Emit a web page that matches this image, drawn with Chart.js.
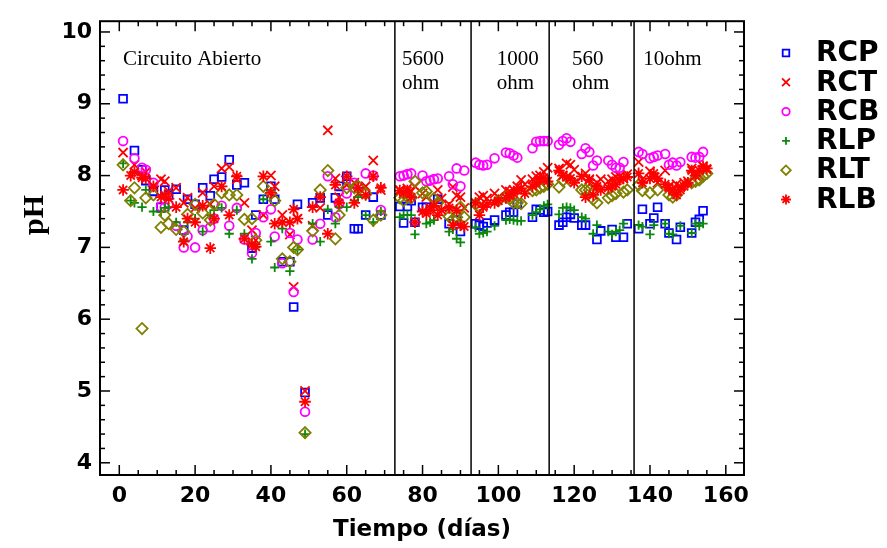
<!DOCTYPE html>
<html>
<head>
<meta charset="utf-8">
<script src="https://cdn.jsdelivr.net/npm/chart.js@4.4.0/dist/chart.umd.min.js"></script>
<style>
  html, body { margin: 0; padding: 0; background: #fff; }
  #wrap { width: 887px; height: 548px; }
</style>
</head>
<body>
<div id="wrap"><canvas id="grafico" width="887" height="548"></canvas></div>
<script>
// dias de muestreo (comunes a las seis series)
const dias = [
  1, 3, 4, 6, 7, 9, 11, 12, 13, 15, 17, 18, 20, 22, 24, 25, 27, 29, 31, 33, 35,
  36, 38, 40, 41, 43, 45, 46, 47, 49, 51, 53, 55, 57, 58, 60, 62, 63, 65, 67, 69,
  74, 75, 76, 77, 78, 80, 81, 82, 83, 84, 85, 87, 88, 89, 90, 91,
  94, 95, 96, 97, 99, 100, 102, 103, 104, 105, 106, 107, 109, 110, 111, 112, 113,
  116, 117, 118, 119, 120, 122, 123, 124, 125, 126, 127, 129, 130, 131, 132, 133, 134,
  137, 138, 140, 141, 142, 144, 145, 146, 147, 148, 149, 150, 151, 152, 153, 154, 155
];

const RCP = [
  9.07, null, 8.35, 8.08, 7.93, 7.78, 7.56, 7.80, 7.73, 7.81, 7.24, 7.67, 7.60, 7.83, 7.72, 7.95, 7.98, 8.22, 7.87, 7.90, 6.99,
  7.45, 7.67, 7.85, 7.67, 6.80, 6.80, 6.17, 7.60, 4.98, 7.62, 7.69, 7.45, 7.69, 7.85, 7.99, 7.26, 7.26, 7.45, 7.70, 7.45,
  7.57, 7.34, 7.57, 7.65, 7.35, 7.56, 7.56, null, null, 7.67, null, 7.33, null, 7.38, 7.22, null,
  7.33, 7.31, 7.29, 7.34, 7.38, null, 7.45, 7.49, 7.49, 7.60, null, null, 7.42, 7.53, 7.52, 7.49, 7.50,
  7.31, 7.35, 7.42, 7.46, 7.41, 7.31, 7.31, null, null, 7.11, 7.23, null, 7.25, 7.14, null, 7.14, 7.33,
  7.26, 7.53, 7.33, 7.41, 7.56, 7.33, 7.20, null, 7.11, 7.28, null, null, 7.20, 7.35, 7.39, 7.51, null
];
const RCT = [
  8.32, null, 8.15, 8.00, 8.05, 7.85, 7.95, 7.92, 7.78, 7.83, 7.62, 7.69, 7.55, 7.76, 7.60, 7.85, 8.10, 8.12, 7.95, 7.62, 7.24,
  7.10, 7.45, 8.00, 7.85, 7.45, 7.18, 6.45, 7.40, 5.00, 7.30, 7.55, 8.63, 7.96, 7.70, 7.87, 7.90, 7.75, 7.85, 8.21, 7.80,
  7.80, 7.75, 7.82, 7.78, 7.85, 7.75, 7.70, 7.55, 7.62, 7.80, 7.68, 7.60, 7.84, 7.72, 7.70, 7.55,
  7.62, 7.70, 7.72, 7.68, 7.75, 7.70, 7.80, 7.78, 7.80, 7.85, 7.94, 7.88, 7.95, 7.99, 8.00, 8.05, 8.11,
  8.10, 8.00, 8.17, 8.15, 8.08, 7.98, 8.03, 7.95, 7.85, 7.90, 7.95, 7.92, 7.95, 7.98, 7.99, 7.96, 8.02,
  8.19, 7.95, 8.06, 7.98, 7.90, 8.07, 7.85, 7.80, 7.88, 7.85, 7.90, 7.92, 8.10, 8.05, 8.00, 8.13, 8.08
];
const RCB = [
  8.48, null, 8.24, 8.11, 8.08, 7.90, 7.57, 7.56, 7.60, 7.30, 7.00, 7.15, 7.00, 7.24, 7.28, 7.40, 7.58, 7.30, 7.55, 7.11, 6.92,
  7.20, 7.42, 7.53, 7.15, 6.78, 7.20, 6.38, 7.11, 4.71, 7.11, 7.33, 7.99, 7.42, 7.60, 7.75, 7.90, 7.85, 8.03, 8.00, 7.52,
  7.99, 8.00, 8.02, 8.03, null, 8.00, 7.92, 7.93, 7.95, 7.96, null, 7.99, 7.88, 8.10, 7.85, 8.07,
  8.18, 8.15, 8.14, 8.15, 8.24, null, 8.32, 8.31, 8.28, 8.25, null, null, 8.38, 8.47, 8.48, 8.48, 8.48,
  8.43, 8.48, 8.52, 8.47, null, 8.30, 8.38, 8.33, 8.14, 8.21, null, 8.21, 8.15, 8.11, 8.11, 8.19, null,
  8.33, 8.30, 8.24, 8.26, 8.28, 8.30, 8.15, 8.18, 8.14, 8.19, null, null, 8.26, 8.25, 8.26, 8.33, null
];
const RLP = [
  8.17, 7.65, 7.62, 7.56, 7.80, 7.50, 7.49, 7.55, 7.56, 7.35, 7.10, 7.35, 7.40, 7.22, 7.45, 7.52, 7.55, 7.19, 7.52, 7.19, 6.84,
  7.00, 7.67, 7.08, 6.72, 7.26, 6.67, null, 6.97, 4.40, 7.33, 7.08, 7.53, 7.33, 7.56, 7.56, 7.65, 7.70, 7.45, 7.35, 7.50,
  7.42, 7.45, 7.45, 7.45, 7.18, null, 7.33, 7.35, 7.38, null, null, 7.22, 7.25, 7.12, 7.07, null,
  7.28, 7.19, 7.20, 7.22, 7.30, null, 7.38, 7.39, 7.38, 7.37, 7.37, null, 7.45, 7.49, 7.53, 7.58, 7.60,
  7.46, 7.55, 7.56, 7.55, 7.52, 7.42, 7.40, null, 7.19, 7.31, null, 7.22, 7.18, 7.22, 7.24, 7.33, null,
  7.31, 7.29, 7.18, 7.31, null, 7.33, 7.19, 7.18, null, 7.30, null, null, 7.20, 7.33, 7.30, 7.33, null
];
const RLT = [
  8.15, 7.65, 7.83, 5.87, 7.69, 7.73, 7.28, 7.45, 7.33, 7.25, 7.22, 7.46, 7.60, 7.48, 7.38, 7.60, 7.76, 7.73, 7.73, 7.39, 7.40,
  7.10, 7.85, 7.75, 7.65, 6.84, 6.80, 7.00, 6.97, 4.42, 7.23, 7.80, 8.07, 7.12, 7.45, 7.83, 7.83, 7.85, 7.75, 7.38, 7.45,
  7.69, 7.65, 7.70, 7.69, 7.92, 7.76, 7.78, null, 7.68, 7.62, null, 7.43, 7.39, 7.42, 7.56, 7.42,
  7.60, 7.56, null, null, null, 7.65, 7.70, 7.68, 7.62, 7.62, 7.61, null, 7.79, 7.80, 7.83, 7.85, 7.88,
  7.84, 7.93, null, 7.93, null, 7.80, 7.80, 7.80, 7.67, 7.62, null, 7.69, 7.72, 7.75, null, 7.77, 7.80,
  7.87, 7.79, 7.76, null, 7.80, null, 7.73, 7.70, 7.73, null, null, null, 7.90, 7.92, 7.94, 7.99, 8.03
];
const RLB = [
  7.80, 8.00, 8.05, 7.97, 7.96, 7.85, 7.70, 7.73, 7.68, 7.56, 7.08, 7.40, 7.35, 7.58, 6.99, 7.40, 7.85, 7.45, 7.99, 7.12, 7.04,
  7.01, 7.99, 7.76, 7.33, 7.35, 7.35, 7.53, 7.40, 4.85, 7.56, 7.70, 7.19, 7.87, 7.62, 7.99, 7.62, 7.83, 7.73, 7.99, 7.83,
  7.79, 7.76, 7.79, 7.70, 7.35, 7.50, 7.47, 7.52, 7.58, 7.45, 7.52, 7.55, 7.31, 7.52, 7.31, 7.29,
  7.62, 7.45, 7.56, 7.60, 7.62, 7.65, 7.69, 7.72, 7.75, 7.80, 7.82, 7.75, 7.85, 7.90, 7.95, 7.97, 7.92,
  8.07, 8.00, 7.98, 7.96, 7.90, 7.99, 7.70, 7.94, 7.73, 7.85, 7.80, 7.83, 7.85, 7.88, 7.94, 7.96, 7.98,
  8.03, 7.90, 7.96, 8.03, 7.96, 7.88, 7.83, 7.79, 7.73, 7.80, 7.85, 7.90, 8.07, 8.00, 8.07, 8.13, 8.10
];

// cambios de resistencia (dias) y rotulos de cada tramo
const cambios = [72.7, 92.8, 113.4, 135.8];
const tramos = [
  { dia: 1, texto: ['Circuito Abierto'] },
  { dia: 74.6, texto: ['5600', 'ohm'] },
  { dia: 99.6, texto: ['1000', 'ohm'] },
  { dia: 119.4, texto: ['560', 'ohm'] },
  { dia: 138.2, texto: ['10ohm'] }
];

const xTicks = [0, 20, 40, 60, 80, 100, 120, 140, 160];
const yTicks = [4, 5, 6, 7, 8, 9, 10];

const estilos = [
  { label: 'RCP', data: RCP, color: '#0000ff', pointStyle: 'rect', radius: 5.5 },
  { label: 'RCT', data: RCT, color: '#ff0000', pointStyle: 'crossRot', radius: 6.5 },
  { label: 'RCB', data: RCB, color: '#ff00ff', pointStyle: 'circle', radius: 4.4 },
  { label: 'RLP', data: RLP, color: '#0a8a0a', pointStyle: 'cross', radius: 4.6 },
  { label: 'RLT', data: RLT, color: '#808000', pointStyle: 'rectRot', radius: 5.6 },
  { label: 'RLB', data: RLB, color: '#ff0000', pointStyle: 'star', radius: 5.8 }
];

const fuenteSans = '"DejaVu Sans", sans-serif';
const fuenteSerif = '"Liberation Serif", "Times New Roman", serif';

const marco = {
  id: 'marco',
  afterDatasetsDraw(chart) {
    const { ctx, chartArea: a, scales: { x, y } } = chart;
    const linea = (x1, y1, x2, y2) => {
      ctx.beginPath(); ctx.moveTo(x1, y1); ctx.lineTo(x2, y2); ctx.stroke();
    };
    ctx.save();
    ctx.strokeStyle = '#000';

    // lineas de cambio de resistencia
    ctx.lineWidth = 1.5;
    cambios.forEach(d => {
      const px = x.getPixelForValue(d);
      linea(px, a.top, px, a.bottom);
    });

    // marcas hacia adentro en los cuatro lados
    for (let d = 0; d <= 160; d += 5) {
      const px = x.getPixelForValue(d);
      const len = d % 20 === 0 ? 10 : 5;
      linea(px, a.bottom, px, a.bottom - len);
      linea(px, a.top, px, a.top + len);
    }
    for (let i = 0; i <= 30; i++) {
      const py = y.getPixelForValue(4 + i * 0.2);
      const len = i % 5 === 0 ? 10 : 5;
      linea(a.left, py, a.left + len, py);
      linea(a.right, py, a.right - len, py);
    }

    ctx.lineWidth = 2;
    ctx.strokeRect(a.left, a.top, a.width, a.height);

    // rotulos de tramos
    ctx.fillStyle = '#000';
    ctx.font = '21px ' + fuenteSerif;
    ctx.textAlign = 'left';
    ctx.textBaseline = 'alphabetic';
    tramos.forEach(t => {
      const px = x.getPixelForValue(t.dia);
      t.texto.forEach((s, i) => ctx.fillText(s, px, a.top + 44 + i * 24));
    });

    // titulo eje y
    ctx.save();
    ctx.translate(35, 215);
    ctx.rotate(-Math.PI / 2);
    ctx.font = 'bold 30px ' + fuenteSerif;
    ctx.textAlign = 'center';
    ctx.textBaseline = 'middle';
    ctx.fillText('pH', 0, 0);
    ctx.restore();

    // leyenda
    chart.data.datasets.forEach((ds, i) => {
      const ly = 53 + i * 29.3;
      ctx.strokeStyle = ds.borderColor;
      ctx.fillStyle = 'rgba(0,0,0,0)';
      ctx.lineWidth = 1.8;
      Chart.helpers.drawPoint(ctx, {
        pointStyle: ds.pointStyle, radius: ds.pointRadius * 0.85, borderWidth: 1.8, rotation: 0
      }, 786, ly);
      ctx.fillStyle = '#000';
      ctx.font = 'bold 28px ' + fuenteSans;
      ctx.textAlign = 'left';
      ctx.textBaseline = 'middle';
      ctx.fillText(ds.label, 816, ly + 1);
    });
    ctx.restore();
  }
};

new Chart(document.getElementById('grafico'), {
  type: 'scatter',
  data: {
    datasets: estilos.map((s, i) => ({
      label: s.label,
      data: dias.map((d, k) => ({ x: d, y: s.data[k] })).filter(p => p.y !== null),
      pointStyle: s.pointStyle,
      pointRadius: s.radius,
      pointHoverRadius: s.radius,
      borderColor: s.color,
      backgroundColor: 'rgba(0,0,0,0)',
      pointBorderWidth: 1.8,
      showLine: false,
      order: estilos.length - i
    }))
  },
  options: {
    responsive: false,
    animation: false,
    devicePixelRatio: 1,
    layout: { padding: { top: 9, right: 143, left: 0, bottom: 0 } },
    plugins: { legend: { display: false }, tooltip: { enabled: false } },
    scales: {
      x: {
        type: 'linear',
        min: -5.09,
        max: 164.8,
        grid: { display: false, drawTicks: false },
        border: { display: false },
        afterBuildTicks: s => { s.ticks = xTicks.map(v => ({ value: v })); },
        afterFit: s => { s.height = 73; },
        ticks: {
          autoSkip: false, maxRotation: 0, padding: 8, color: '#000',
          font: { family: fuenteSans, size: 22, weight: 'bold' }
        },
        title: {
          display: true, text: 'Tiempo (días)', color: '#000',
          font: { family: fuenteSans, size: 23, weight: 'bold' },
          padding: { top: 0, bottom: 4 }
        }
      },
      y: {
        min: 3.83,
        max: 10.15,
        grid: { display: false, drawTicks: false },
        border: { display: false },
        afterBuildTicks: s => { s.ticks = yTicks.map(v => ({ value: v })); },
        afterFit: s => { s.width = 100; },
        ticks: {
          autoSkip: false, padding: 8, color: '#000',
          font: { family: fuenteSans, size: 22, weight: 'bold' }
        }
      }
    }
  },
  plugins: [marco]
});
</script>
</body>
</html>
